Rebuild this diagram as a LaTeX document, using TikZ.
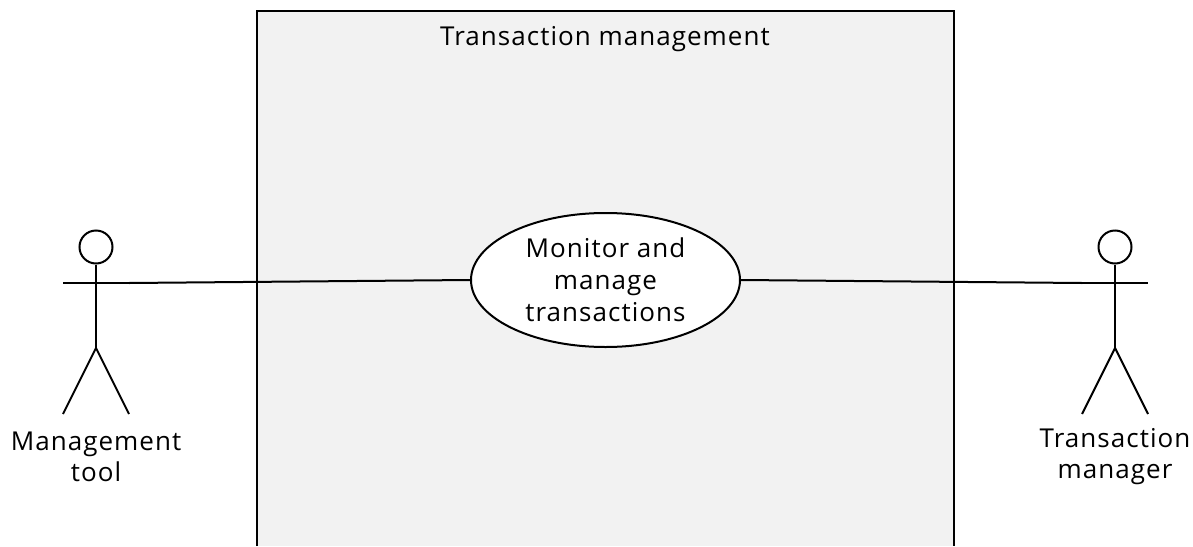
\documentclass[tikz,border=0pt]{standalone}
\usepackage{fontspec}
\setmainfont{Open Sans}[LetterSpace=4]
\usetikzlibrary{shapes.geometric}
\begin{document}
\begin{tikzpicture}[x=0.5pt,y=-0.5pt,
  line/.style={line width=1pt,black},
  lbl/.style={font=\fontsize{13}{15.5}\selectfont,align=center,inner sep=0pt},
  usecase/.style={ellipse,draw,line width=1pt,fill=white,minimum width=134.5pt,minimum height=67pt,inner sep=0pt,align=center,font=\fontsize{13}{16}\selectfont},
  head/.style={circle,draw,line width=1pt,minimum size=16.5pt,inner sep=0pt}]
\useasboundingbox (0,0) rectangle (1193,546);
\fill[white] (0,0) rectangle (1193,546);
% system boundary
\fill[black!5] (257,11) rectangle (954,546);
\draw[line] (257,546) -- (257,11) -- (954,11) -- (954,546);
\node[lbl] (title) at (605,39) {Transaction management};
% use case
\node[usecase] (uc) at (605.5,280) {Monitor and\\manage\\transactions};
% left actor
\node[head] (lh) at (96,247) {};
\coordinate (lal) at (63,283);
\coordinate (lar) at (129,283);
\coordinate (lhip) at (96,348);
\coordinate (lfl) at (63,414);
\coordinate (lfr) at (129,414);
\draw[line] (lh.south) -- (lhip);
\draw[line] (lal) -- (lar);
\draw[line] (lfl) -- (lhip) -- (lfr);
\node[lbl] (lname) at (96,457) {Management\\tool};
% right actor
\node[head] (rh) at (1115,247) {};
\coordinate (ral) at (1082,283);
\coordinate (rar) at (1148,283);
\coordinate (rhip) at (1115,348);
\coordinate (rfl) at (1082,414);
\coordinate (rfr) at (1148,414);
\draw[line] (rh.south) -- (rhip);
\draw[line] (ral) -- (rar);
\draw[line] (rfl) -- (rhip) -- (rfr);
\node[lbl] (rname) at (1115,457) {Transaction\\manager};
% associations
\draw[line] (lar) -- (uc.west);
\draw[line] (uc.east) -- (ral);
\end{tikzpicture}
\end{document}
